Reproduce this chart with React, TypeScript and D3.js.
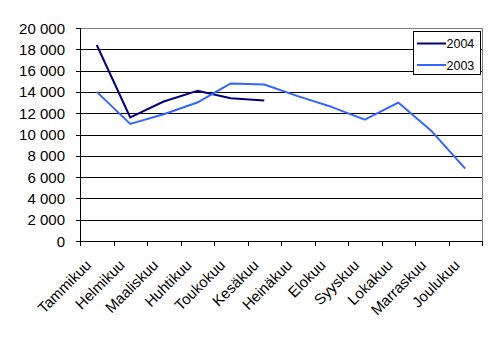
import React from "react";
import * as d3 from "d3";

const months = ["Tammikuu","Helmikuu","Maaliskuu","Huhtikuu","Toukokuu","Kesäkuu","Heinäkuu","Elokuu","Syyskuu","Lokakuu","Marraskuu","Joulukuu"];
const values2004 = [18400, 11600, 13100, 14100, 13400, 13200];
const values2003 = [14000, 11000, 11900, 13000, 14800, 14700, 13600, 12600, 11400, 13000, 10300, 6800];
const yTicks = [0, 2000, 4000, 6000, 8000, 10000, 12000, 14000, 16000, 18000, 20000];
const seriesNames = ["2004", "2003"];
const seriesColors = ["#000080", "#3366FF"];

const W = 497, H = 338;
const L = 80, R = 482, T = 28, B = 241;
const FONT = "'Liberation Sans', Arial, sans-serif";

export default function App() {
  const x = d3.scaleBand<string>().domain(months).range([L, R]).padding(0);
  const y = d3.scaleLinear().domain([0, 20000]).range([B, T]);
  const cx = (m: string) => (x(m) as number) + x.bandwidth() / 2;
  const fmt = (v: number) => d3.format(",")(v).replace(/,/g, " ");
  const line = d3.line<number>().x((_, i) => cx(months[i])).y((d) => y(d));
  const series = [values2004, values2003];

  return (
    <div style={{ position: "absolute", left: 0, top: 0, width: W, height: H, background: "#fff" }}>
      <svg width={W} height={H} style={{ display: "block" }} fontFamily={FONT}>
        <rect x={0} y={0} width={W} height={H} fill="#fff" />
        {yTicks.filter((t) => t > 0 && t < 20000).map((t) => (
          <line key={"g" + t} x1={L} x2={R} y1={Math.round(y(t)) + 0.5} y2={Math.round(y(t)) + 0.5} stroke="#000" strokeWidth={1} shapeRendering="crispEdges" />
        ))}
        <line x1={L} x2={R} y1={T + 0.5} y2={T + 0.5} stroke="#808080" shapeRendering="crispEdges" />
        <line x1={R + 0.5} x2={R + 0.5} y1={T} y2={B} stroke="#808080" shapeRendering="crispEdges" />
        <line x1={L + 0.5} x2={L + 0.5} y1={T} y2={B + 1} stroke="#000" shapeRendering="crispEdges" />
        <line x1={L} x2={R + 1} y1={B + 0.5} y2={B + 0.5} stroke="#000" shapeRendering="crispEdges" />
        {yTicks.map((t) => (
          <g key={"y" + t}>
            <line x1={L - 4} x2={L} y1={Math.round(y(t)) + 0.5} y2={Math.round(y(t)) + 0.5} stroke="#000" shapeRendering="crispEdges" />
            <text x={65} y={y(t) + 5.5} textAnchor="end" fontSize={15} fill="#000">{fmt(t)}</text>
          </g>
        ))}
        {months.map((m, i) => (
          <line key={"xt" + i} x1={Math.round(x(m) as number) + 0.5} x2={Math.round(x(m) as number) + 0.5} y1={B} y2={B + 5} stroke="#000" shapeRendering="crispEdges" />
        ))}
        <line x1={R + 0.5} x2={R + 0.5} y1={B} y2={B + 5} stroke="#000" shapeRendering="crispEdges" />
        {months.map((m) => (
          <text key={"xl" + m} transform={`translate(${cx(m) - 4.5},${266}) rotate(-45)`} textAnchor="end" fontSize={15} fill="#000">{m}</text>
        ))}
        {series.map((s, i) => (
          <path key={"s" + i} d={line(s) as string} fill="none" stroke={seriesColors[i]} strokeWidth={2} strokeLinejoin="round" />
        ))}
        <rect x={413.5} y={31.5} width={67} height={43} fill="#fff" stroke="#000" shapeRendering="crispEdges" />
        {seriesNames.map((n, i) => (
          <g key={"lg" + n}>
            <line x1={417} x2={446} y1={43.5 + i * 21.5} y2={43.5 + i * 21.5} stroke={seriesColors[i]} strokeWidth={2} />
            <text x={446.5} y={43.5 + i * 21.5 + 4.5} fontSize={12.5} fill="#000">{n}</text>
          </g>
        ))}
      </svg>
    </div>
  );
}
